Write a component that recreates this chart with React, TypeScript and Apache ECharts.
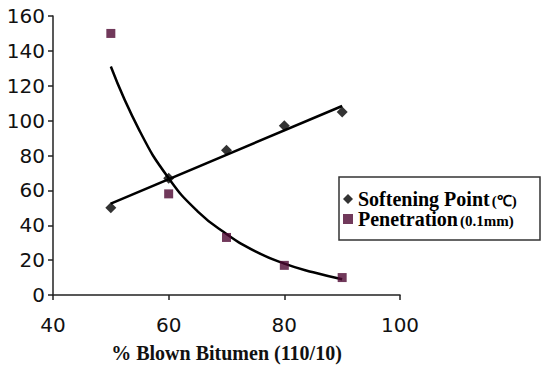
import React, { useEffect, useRef } from "react";
import * as echarts from "echarts";

const xValues = [50, 60, 70, 80, 90];
const softeningPoint = [50, 67, 83, 97, 105];
const penetration = [150, 58, 33, 17, 10];
const softeningTrendX = [50, 90];
const softeningTrendY = [52.4, 108.4];
const penetrationTrendX = [50, 55, 60, 65, 70, 75, 80, 85, 90];
const penetrationTrendY = [131, 94, 67, 48, 35, 25, 18, 13, 9];

export default function App() {
  const ref = useRef<HTMLDivElement>(null);
  useEffect(() => {
    if (!ref.current) return;
    const chart = echarts.init(ref.current, null, { renderer: "svg" });
    const axisLabel = { color: "#111", fontSize: 20, fontFamily: "DejaVu Sans, Arial, sans-serif" };
    const serif = "Liberation Serif, Times New Roman, serif";
    chart.setOption({
      animation: false,
      backgroundColor: "#fff",
      grid: { left: 53, right: 150, top: 16, bottom: 78, outerBoundsMode: "none" },
      graphic: [
        {
          type: "rect",
          shape: { x: 339, y: 177, width: 201, height: 63 },
          style: { fill: "#fff", stroke: "#333", lineWidth: 1.5 },
          z: 0,
        },
      ],
      xAxis: {
        type: "value",
        min: 40,
        max: 100,
        interval: 20,
        name: "% Blown Bitumen (110/10)",
        nameLocation: "middle",
        nameGap: 48,
        nameTextStyle: { fontFamily: serif, fontWeight: "bold", fontSize: 20, color: "#111" },
        axisLine: { lineStyle: { color: "#222", width: 1.5 } },
        axisTick: { show: true, length: 5, inside: false, lineStyle: { color: "#222", width: 1.5 } },
        axisLabel: { ...axisLabel, margin: 20 },
        splitLine: { show: false },
      },
      yAxis: {
        type: "value",
        min: 0,
        max: 160,
        interval: 20,
        axisLine: { show: true, lineStyle: { color: "#222", width: 1.5 } },
        axisTick: { show: true, length: 5, lineStyle: { color: "#222", width: 1.5 } },
        axisLabel: { ...axisLabel, margin: 8 },
        splitLine: { show: false },
      },
      legend: {
        orient: "vertical",
        left: 343,
        top: 189,
        padding: 0,
        itemGap: 0,
        itemWidth: 10,
        itemHeight: 10,
        itemTextGap: 5,
        z: 10,
        data: [
          { name: "Softening Point", icon: "diamond", itemStyle: { color: "#000" } },
          { name: "Penetration", icon: "rect", itemStyle: { color: "#4e0832" } },
        ],
        formatter: (name: string) =>
          name === "Softening Point" ? "{a|Softening Point}{b|(℃)}" : "{a|Penetration}{b|(0.1mm)}",
        textStyle: {
          rich: {
            a: { fontFamily: serif, fontWeight: "bold", fontSize: 20, color: "#000", lineHeight: 23 },
            b: { fontFamily: serif, fontWeight: "bold", fontSize: 15, color: "#000", lineHeight: 19, padding: [4, 0, 0, 2] },
          },
        },
      },
      series: [
        {
          name: "Softening Point",
          type: "scatter",
          symbol: "diamond",
          symbolSize: 11,
          itemStyle: { color: "#000" },
          data: xValues.map((x, i) => [x, softeningPoint[i]]),
          z: 5,
        },
        {
          name: "Penetration",
          type: "scatter",
          symbol: "rect",
          symbolSize: 9,
          itemStyle: { color: "#4e0832" },
          data: xValues.map((x, i) => [x, penetration[i]]),
          z: 5,
        },
        {
          name: "softTrend",
          type: "line",
          showSymbol: false,
          symbol: "none",
          lineStyle: { color: "#000", width: 2.5 },
          data: softeningTrendX.map((x, i) => [x, softeningTrendY[i]]),
          z: 3,
        },
        {
          name: "penTrend",
          type: "line",
          smooth: true,
          showSymbol: false,
          symbol: "none",
          lineStyle: { color: "#000", width: 2.5 },
          data: penetrationTrendX.map((x, i) => [x, penetrationTrendY[i]]),
          z: 3,
        },
      ],
    });
    return () => chart.dispose();
  }, []);
  return <div ref={ref} style={{ width: 550, height: 373, position: "absolute", left: 0, top: 0 }} />;
}
